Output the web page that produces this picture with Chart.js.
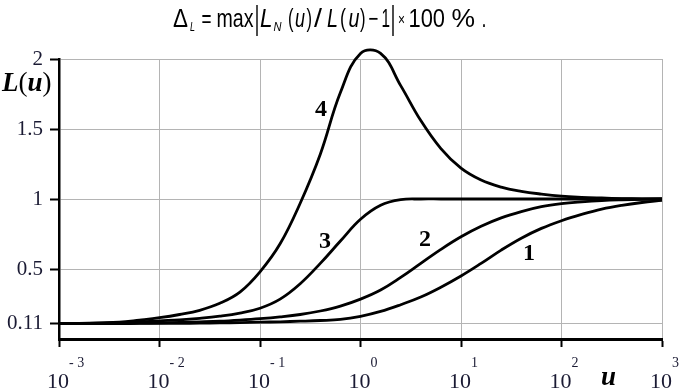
<!DOCTYPE html>
<html>
<head>
<meta charset="utf-8">
<script src="https://cdn.jsdelivr.net/npm/chart.js@4.4.1/dist/chart.umd.min.js"></script>
<style>
  html, body { margin: 0; padding: 0; background: #fff; }
  #wrap { width: 683px; height: 390px; position: relative; }
</style>
</head>
<body>
<div id="wrap"><canvas id="lChart"></canvas></div>
<script>
// log10(u) sample points shared by all curves
const uExp = [-3, -2.8, -2.6, -2.4, -2.2, -2, -1.8, -1.6, -1.4, -1.2, -1, -0.8, -0.6, -0.4, -0.2, 0,
              0.2, 0.4, 0.6, 0.8, 1, 1.2, 1.4, 1.6, 1.8, 2, 2.2, 2.4, 2.6, 2.8, 3];

const curve1 = [0.11, 0.11, 0.11, 0.11, 0.111, 0.111, 0.112, 0.113, 0.115, 0.117, 0.12, 0.123, 0.127, 0.132, 0.14, 0.162,
                0.197, 0.245, 0.3, 0.37, 0.45, 0.54, 0.635, 0.72, 0.79, 0.845, 0.89, 0.928, 0.955, 0.975, 0.99];
const curve2 = [0.11, 0.11, 0.111, 0.112, 0.113, 0.115, 0.118, 0.122, 0.127, 0.135, 0.145, 0.158, 0.175, 0.2, 0.235, 0.285,
                0.35, 0.44, 0.54, 0.64, 0.73, 0.805, 0.865, 0.91, 0.945, 0.967, 0.98, 0.989, 0.994, 0.997, 1.0];
const curve3 = [0.11, 0.111, 0.113, 0.116, 0.122, 0.13, 0.137, 0.148, 0.163, 0.185, 0.22, 0.285, 0.395, 0.54, 0.7, 0.855,
                0.955, 0.995, 1.0, 1.0, 1.0, 1.0, 1.0, 1.0, 1.0, 1.0, 1.0, 1.0, 1.0, 1.0, 1.0];
const curve4 = [0.11, 0.112, 0.115, 0.12, 0.135, 0.152, 0.175, 0.205, 0.255, 0.335, 0.48, 0.68, 0.97, 1.32, 1.76, 2.04,
                2.04, 1.81, 1.56, 1.36, 1.22, 1.135, 1.085, 1.055, 1.035, 1.02, 1.012, 1.007, 1.003, 1.001, 1.0];

const xTickExps = [-3, -2, -1, 0, 1, 2, 3];
const yTicks = [0.11, 0.5, 1, 1.5, 2];
const curveNames = ['1', '2', '3', '4'];

const tickColor = '#1a1a33';
const serif = '"Liberation Serif", "Times New Roman", serif';
const sans = '"Liberation Sans", Arial, sans-serif';

function toPoints(vals) {
    return vals.map((v, i) => ({ x: Math.pow(10, uExp[i]), y: v }));
}

// text that the chart library can't do by itself: formula, superscript ticks, curve numbers
const overlay = {
    id: 'overlay',
    afterDraw(chart) {
        const ctx = chart.ctx;
        const xs = chart.scales.x;
        ctx.save();
        ctx.fillStyle = '#000';
        ctx.textBaseline = 'alphabetic';

        // formula on top: [text, left, right, baseline, size, style]
        const pieces = [
            ['\u0394', 173, 188, 27, 25, ''], ['L', 190, 195, 31, 12, 'italic '],
            ['=', 201.5, 211.5, 27, 25, ''], ['max', 216.5, 253.5, 27, 25, ''],
            ['L', 260, 272.5, 27, 25, 'italic '], ['N', 273.5, 281.5, 31, 12, 'italic '],
            ['(', 288, 293.5, 27, 25, ''], ['u', 295, 305, 27, 25, 'italic '], [')', 306.5, 312, 27, 25, ''],
            ['/', 314, 322, 27, 26, ''], ['L', 327, 338, 27, 25, 'italic '],
            ['(', 340, 346, 27, 25, ''], ['u', 348.5, 359.5, 27, 25, 'italic '], [')', 360, 365.5, 27, 25, ''],
            ['\u2212', 368.5, 378.5, 27, 25, ''], ['1', 381.5, 390, 27, 25, ''],
            ['\u00d7', 398, 405, 25, 16, ''], ['100', 408.5, 445, 27, 25, ''],
            ['%', 451.5, 475, 27, 25, ''], ['.', 481.5, 486.5, 27, 25, '']
        ];
        pieces.forEach(([t, x0, x1, y, s, st]) => {
            ctx.save();
            ctx.font = st + s + 'px ' + sans;
            const w = ctx.measureText(t).width;
            ctx.translate(x0, y);
            ctx.scale((x1 - x0) / w, 1);
            ctx.textAlign = 'left';
            ctx.fillText(t, 0, 0);
            ctx.restore();
        });
        ctx.strokeStyle = '#000';
        ctx.lineWidth = 1.4;
        [257, 393].forEach(x => {
            ctx.beginPath();
            ctx.moveTo(x, 5);
            ctx.lineTo(x, 36);
            ctx.stroke();
        });

        // x tick labels 10^n
        ctx.fillStyle = tickColor;
        xTickExps.forEach(e => {
            const px = xs.getPixelForValue(Math.pow(10, e));
            ctx.font = '22px ' + serif;
            ctx.textAlign = 'center';
            ctx.fillText('10', px - 1, 388);
            ctx.font = '14px ' + serif;
            ctx.textAlign = 'left';
            ctx.fillText(e < 0 ? '- ' + (-e) : String(e), px + 10, 367);
        });

        // axis titles
        ctx.fillStyle = '#000';
        ctx.textAlign = 'left';
        let x = 2;
        [['L', 'bold italic '], ['(', ''], ['u', 'bold italic '], [')', '']].forEach(([t, st]) => {
            ctx.font = st + '27px ' + serif;
            ctx.fillText(t, x, 91);
            x += ctx.measureText(t).width;
        });
        ctx.font = 'bold italic 27px ' + serif;
        ctx.fillText('u', 601, 385);

        // curve numbers
        const spots = [[529, 254], [425, 240], [325, 242], [321, 110]];
        ctx.font = 'bold 24px ' + serif;
        ctx.textAlign = 'center';
        ctx.textBaseline = 'middle';
        curveNames.forEach((n, i) => ctx.fillText(n, spots[i][0], spots[i][1]));
        ctx.restore();
    }
};

const datasets = [curve1, curve2, curve3, curve4].map((vals, i) => ({
    label: curveNames[i],
    data: toPoints(vals),
    borderColor: '#000',
    borderWidth: 2.8,
    pointRadius: 0,
    fill: false,
    tension: 0.4,
    clip: false
}));

new Chart(document.getElementById('lChart').getContext('2d'), {
    type: 'line',
    data: { datasets: datasets },
    options: {
        responsive: true,
        maintainAspectRatio: false,
        animation: false,
        layout: { padding: { top: 59, right: 21, left: 0, bottom: 0 } },
        plugins: {
            legend: { display: false },
            tooltip: { enabled: false }
        },
        scales: {
            x: {
                type: 'logarithmic',
                min: 0.001,
                max: 1000,
                afterBuildTicks: scale => {
                    scale.ticks = xTickExps.map(e => ({ value: Math.pow(10, e) }));
                },
                afterFit: scale => { scale.height = 51; },
                ticks: { display: false },
                grid: {
                    color: '#b4b4b4',
                    lineWidth: 1,
                    tickColor: '#000',
                    tickWidth: 2,
                    tickLength: 8
                },
                border: { color: '#000', width: 3 }
            },
            y: {
                min: 0,
                max: 2,
                afterBuildTicks: scale => {
                    scale.ticks = yTicks.map(v => ({ value: v }));
                },
                afterFit: scale => { scale.width = 59; },
                ticks: {
                    color: tickColor,
                    font: { family: serif, size: 21 },
                    padding: 7,
                    callback: v => String(v)
                },
                grid: {
                    color: '#b4b4b4',
                    lineWidth: 1,
                    tickColor: '#000',
                    tickWidth: 2,
                    tickLength: 9
                },
                border: { color: '#000', width: 2.5 }
            }
        }
    },
    plugins: [overlay]
});
</script>
</body>
</html>
